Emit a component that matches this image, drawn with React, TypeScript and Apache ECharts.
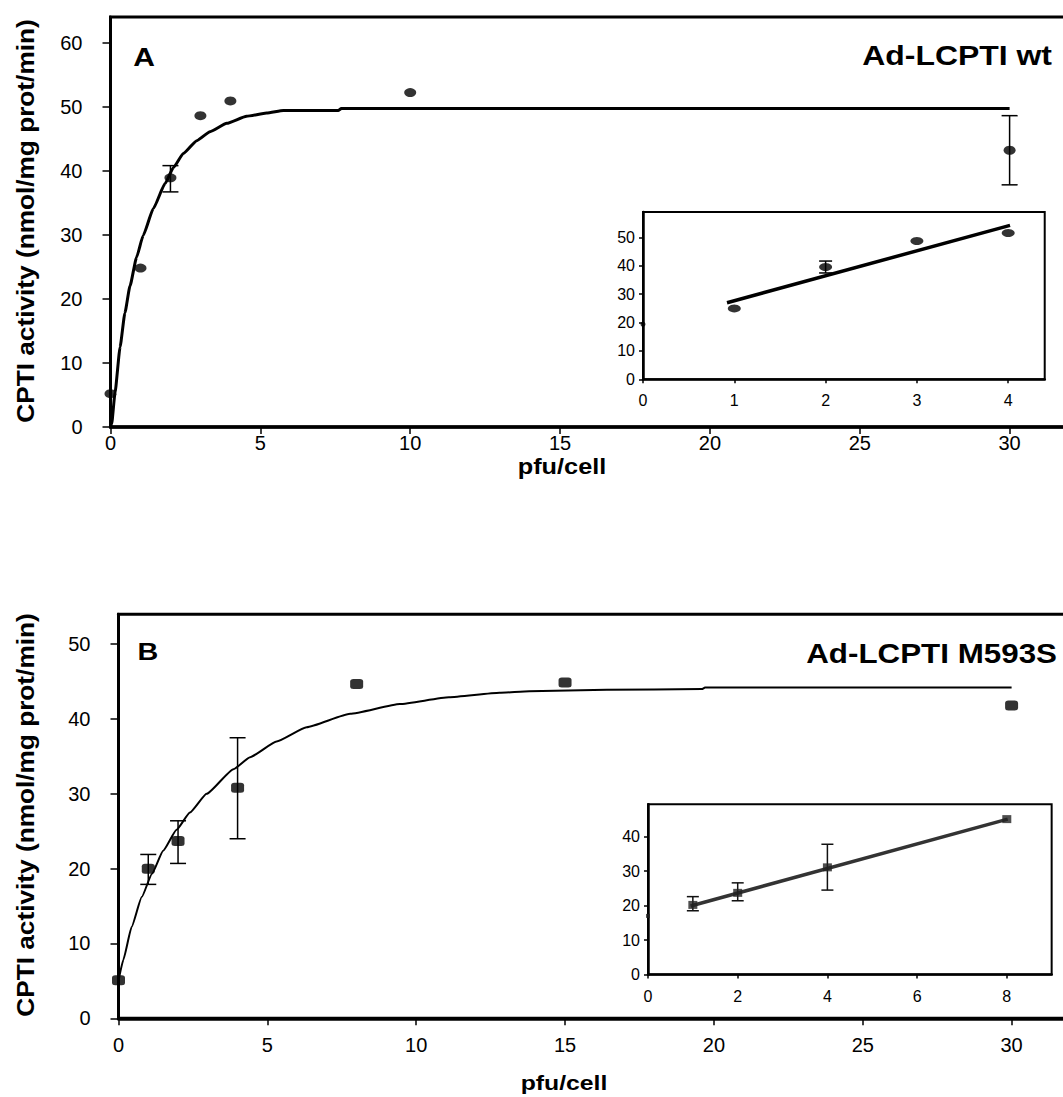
import React, { useEffect, useRef } from "react";
import * as echarts from "echarts";

const FONT = '"Liberation Sans", Arial, Helvetica, sans-serif';

// ---------- Panel A : Ad-LCPTI wt (main) ----------
const wtX = [0, 1, 2, 3, 4, 10, 30];
const wtY = [5.2, 24.8, 38.9, 48.6, 50.9, 52.2, 43.2];
const wtErrX = [2, 30];
const wtErrLow = [36.7, 37.8];
const wtErrHigh = [40.8, 48.6];
const wtFitX = [0, 0.04, 0.15, 0.32, 0.48, 0.65, 0.87, 1.09, 1.43, 1.82, 2.1, 2.43, 2.88, 3.32, 3.88, 4.54, 5.21, 5.77, 7.6, 7.7, 30];
const wtFitY = [0, 0.5, 5.3, 12.5, 17.8, 22.0, 26.5, 29.9, 34.1, 38.0, 40.5, 42.7, 44.7, 46.1, 47.4, 48.5, 49.0, 49.4, 49.4, 49.7, 49.7];
const aXTicks = [0, 5, 10, 15, 20, 25, 30];
const aYTicks = [0, 10, 20, 30, 40, 50, 60];

// ---------- Panel A inset ----------
const wtInX = [0, 1, 2, 3, 4];
const wtInY = [19.4, 25, 39.6, 48.8, 51.6];
const wtInErrX = [2];
const wtInErrLow = [37.5];
const wtInErrHigh = [41.7];
const wtInFitX = [0.92, 4.02];
const wtInFitY = [27, 54.3];
const aInXTicks = [0, 1, 2, 3, 4];
const aInYTicks = [0, 10, 20, 30, 40, 50];

// ---------- Panel B : Ad-LCPTI M593S (main) ----------
const mX = [0, 1, 2, 4, 8, 15, 30];
const mY = [5.1, 20.0, 23.7, 30.8, 44.7, 44.9, 41.8];
const mErrX = [1, 2, 4];
const mErrLow = [17.9, 20.7, 24.0];
const mErrHigh = [21.9, 26.4, 37.5];
const mFitX = [0, 0.16, 0.44, 0.78, 1.12, 1.5, 1.95, 2.4, 2.96, 3.86, 4.42, 5.31, 6.32, 7.78, 9.45, 11.1, 12.8, 13.8, 16.4, 19.6, 19.7, 30];
const mFitY = [5, 7.8, 12.2, 16.2, 19.3, 22.4, 25.2, 27.5, 30.0, 33.3, 34.9, 37.0, 38.9, 40.7, 42.0, 42.9, 43.5, 43.7, 43.9, 44.0, 44.2, 44.2];
const bXTicks = [0, 5, 10, 15, 20, 25, 30];
const bYTicks = [0, 10, 20, 30, 40, 50];

// ---------- Panel B inset ----------
const mInX = [0, 1, 2, 4, 8];
const mInY = [17, 20.2, 23.7, 31.1, 45.1];
const mInErrX = [1, 2, 4];
const mInErrLow = [18.5, 21.4, 24.5];
const mInErrHigh = [22.6, 26.6, 37.8];
const mInFitX = [0.95, 8.02];
const mInFitY = [19.9, 45.1];
const bInXTicks = [0, 2, 4, 6, 8];
const bInYTicks = [0, 10, 20, 30, 40];

const zip = (xs: number[], ys: number[]) => xs.map((x, i) => [x, ys[i]]);
const zip3 = (xs: number[], a: number[], b: number[]) => xs.map((x, i) => [x, a[i], b[i]]);

function errorBars(axisIndex: number, data: number[][], cap: number, width: number, color: string) {
  return {
    type: "custom",
    xAxisIndex: axisIndex,
    yAxisIndex: axisIndex,
    data,
    encode: { x: 0, y: [1, 2] },
    z: 3,
    silent: true,
    renderItem: (_params: any, api: any) => {
      const x = api.value(0);
      const lo = api.coord([x, api.value(1)]);
      const hi = api.coord([x, api.value(2)]);
      const h = cap / 2;
      const style = { stroke: color, lineWidth: width };
      return {
        type: "group",
        children: [
          { type: "line", shape: { x1: lo[0], y1: lo[1], x2: hi[0], y2: hi[1] }, style },
          { type: "line", shape: { x1: lo[0] - h, y1: lo[1], x2: lo[0] + h, y2: lo[1] }, style },
          { type: "line", shape: { x1: hi[0] - h, y1: hi[1], x2: hi[0] + h, y2: hi[1] }, style },
        ],
      };
    },
  };
}

function axis(
  gridIndex: number,
  max: number,
  interval: number,
  ticks: number[],
  o: { lineWidth: number; tickLen: number; fontSize: number; margin: number; isY: boolean }
) {
  return {
    type: "value",
    gridIndex,
    min: 0,
    max,
    interval,
    position: o.isY ? "left" : "bottom",
    axisLine: { show: true, onZero: false, lineStyle: { color: "#000", width: o.lineWidth } },
    axisTick: {
      show: true,
      inside: false,
      length: o.tickLen,
      customValues: ticks,
      lineStyle: { color: "#000", width: 1.5 },
    },
    axisLabel: {
      show: true,
      customValues: ticks,
      margin: o.margin,
      color: "#000",
      fontFamily: FONT,
      fontSize: o.fontSize,
      formatter: (v: number) => (ticks.indexOf(v) >= 0 ? String(v) : ""),
    },
    splitLine: { show: false },
  };
}

function titleText(text: string, x: number, y: number, size: number, sx: number, rot = 0, align = "center") {
  return {
    type: "text",
    x,
    y,
    rotation: rot,
    scaleX: sx,
    z: 100,
    style: {
      text,
      fontFamily: FONT,
      fontSize: size,
      fontWeight: "bold",
      fill: "#000",
      align,
      textAlign: align,
      verticalAlign: "middle",
      textVerticalAlign: "middle",
    },
  };
}

export default function App() {
  const ref = useRef<HTMLDivElement>(null);

  useEffect(() => {
    if (!ref.current) return;
    const chart = echarts.init(ref.current, undefined, { renderer: "svg" });

    const mainGrid = { show: true, borderColor: "#000", borderWidth: 3, backgroundColor: "transparent", containLabel: false };
    const insetGrid = { show: true, borderColor: "#000", borderWidth: 2, backgroundColor: "#fff", containLabel: false };

    const option: any = {
      animation: false,
      backgroundColor: "#fff",
      grid: [
        { ...mainGrid, left: 110.5, top: 17, width: 32 * 29.97, height: 410 },
        { ...insetGrid, left: 643, top: 212, width: 4.4 * 91.3, height: 167.3 },
        { ...mainGrid, left: 118.5, top: 614.3, width: 32 * 29.77, height: 404 },
        { ...insetGrid, left: 648, top: 804.3, width: 9 * 44.85, height: 170.2 },
      ],
      xAxis: [
        axis(0, 32, 5, aXTicks, { lineWidth: 3.5, tickLen: 7, fontSize: 20, margin: 6, isY: false }),
        axis(1, 4.4, 1, aInXTicks, { lineWidth: 2.5, tickLen: 4, fontSize: 16, margin: 13, isY: false }),
        axis(2, 32, 5, bXTicks, { lineWidth: 3.5, tickLen: 7, fontSize: 20, margin: 17, isY: false }),
        axis(3, 9, 1, bInXTicks, { lineWidth: 2.5, tickLen: 4, fontSize: 16, margin: 14, isY: false }),
      ],
      yAxis: [
        axis(0, 64, 10, aYTicks, { lineWidth: 3, tickLen: 8, fontSize: 20, margin: 28, isY: true }),
        axis(1, 59, 10, aInYTicks, { lineWidth: 2.5, tickLen: 4, fontSize: 16, margin: 8, isY: true }),
        axis(2, 54, 10, bYTicks, { lineWidth: 3, tickLen: 8, fontSize: 20, margin: 28, isY: true }),
        axis(3, 49.4, 10, bInYTicks, { lineWidth: 2.5, tickLen: 4, fontSize: 16, margin: 8, isY: true }),
      ],
      series: [
        // Panel A main
        {
          type: "line",
          xAxisIndex: 0,
          yAxisIndex: 0,
          data: zip(wtFitX, wtFitY),
          symbol: "none",
          showSymbol: false,
          smooth: 0.15,
          smoothMonotone: "x",
          lineStyle: { color: "#000", width: 3, join: "round" },
          z: 2,
          silent: true,
        },
        errorBars(0, zip3(wtErrX, wtErrLow, wtErrHigh), 16, 1.5, "#000"),
        {
          type: "scatter",
          xAxisIndex: 0,
          yAxisIndex: 0,
          data: zip(wtX, wtY),
          symbol: "circle",
          symbolSize: [12, 9],
          itemStyle: { color: "#000" },
          clip: false,
          z: 4,
        },
        // Panel A inset
        {
          type: "line",
          xAxisIndex: 1,
          yAxisIndex: 1,
          data: zip(wtInFitX, wtInFitY),
          symbol: "none",
          showSymbol: false,
          lineStyle: { color: "#000", width: 3.5 },
          z: 2,
          silent: true,
        },
        errorBars(1, zip3(wtInErrX, wtInErrLow, wtInErrHigh), 13, 1.5, "#000"),
        {
          type: "scatter",
          xAxisIndex: 1,
          yAxisIndex: 1,
          data: zip(wtInX, wtInY),
          symbol: "circle",
          symbolSize: (v: number[]) => (v[0] === 0 ? 5 : [13, 8]),
          itemStyle: { color: "#000" },
          clip: false,
          z: 4,
        },
        // Panel B main
        {
          type: "line",
          xAxisIndex: 2,
          yAxisIndex: 2,
          data: zip(mFitX, mFitY),
          symbol: "none",
          showSymbol: false,
          smooth: 0.15,
          smoothMonotone: "x",
          lineStyle: { color: "#000", width: 2, join: "round" },
          z: 2,
          silent: true,
        },
        errorBars(2, zip3(mErrX, mErrLow, mErrHigh), 16, 1.5, "#000"),
        {
          type: "scatter",
          xAxisIndex: 2,
          yAxisIndex: 2,
          data: zip(mX, mY),
          symbol: "roundRect",
          symbolSize: [13, 10],
          itemStyle: { color: "#000" },
          clip: false,
          z: 4,
        },
        // Panel B inset
        {
          type: "line",
          xAxisIndex: 3,
          yAxisIndex: 3,
          data: zip(mInFitX, mInFitY),
          symbol: "none",
          showSymbol: false,
          lineStyle: { color: "#333", width: 3.5 },
          z: 2,
          silent: true,
        },
        errorBars(3, zip3(mInErrX, mInErrLow, mInErrHigh), 12, 1.5, "#111"),
        {
          type: "scatter",
          xAxisIndex: 3,
          yAxisIndex: 3,
          data: zip(mInX, mInY),
          symbol: "rect",
          symbolSize: (v: number[]) => (v[0] === 0 ? 4 : [9, 8]),
          itemStyle: { color: "#222" },
          clip: false,
          z: 4,
        },
      ],
      graphic: [
        titleText("A", 144, 57, 25, 1.2),
        titleText("Ad-LCPTI wt", 1052, 55, 28, 1.14, 0, "right"),
        titleText("CPTI activity (nmol/mg prot/min)", 26, 221, 23, 1.14, Math.PI / 2),
        titleText("pfu/cell", 562, 467, 22, 1.15),
        titleText("B", 148, 652, 24, 1.2),
        titleText("Ad-LCPTI M593S", 1057, 653, 28, 1.12, 0, "right"),
        titleText("CPTI activity (nmol/mg prot/min)", 26, 815, 23, 1.14, Math.PI / 2),
        titleText("pfu/cell", 564, 1083, 21, 1.18),
      ],
    };

    chart.setOption(option);
    return () => {
      chart.dispose();
    };
  }, []);

  return (
    <div style={{ position: "absolute", left: 0, top: 0, width: 1063, height: 1097, overflow: "hidden", background: "#fff" }}>
      <div ref={ref} style={{ width: 1110, height: 1097 }} />
    </div>
  );
}
